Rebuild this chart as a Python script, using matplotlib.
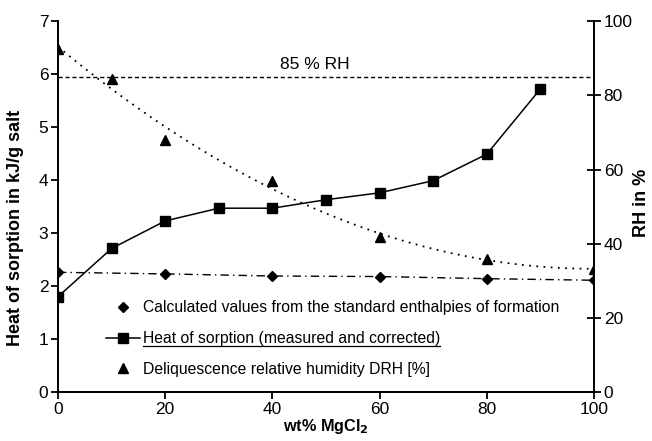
import matplotlib
matplotlib.use('Agg')
import matplotlib.pyplot as plt
import numpy as np
from matplotlib.lines import Line2D

plt.rcParams['font.family'] = ['Liberation Sans', 'DejaVu Sans']

# heat of sorption (measured and corrected), kJ/g salt
x_heat = [0, 10, 20, 30, 40, 50, 60, 70, 80, 90]
heat = [1.80, 2.71, 3.23, 3.47, 3.47, 3.63, 3.76, 3.99, 4.49, 5.72]

# calculated from standard enthalpies of formation, kJ/g salt
x_calc = [0, 20, 40, 60, 80, 100]
calc = [2.26, 2.23, 2.19, 2.18, 2.14, 2.11]

# deliquescence relative humidity, %
x_drh = [0, 10, 20, 40, 60, 80, 100]
drh = [92.6, 84.4, 67.9, 56.9, 41.9, 35.8, 33.2]

rh_line = 85

fig = plt.figure(figsize=(6.52, 4.41), dpi=100)
ax = fig.add_axes([0.089, 0.111, 0.822, 0.841])
ax2 = ax.twinx()

# trend curve for DRH (polynomial fit)
coef = np.polyfit(x_drh, drh, 2)
xf = np.linspace(0, 100, 200)
ax2.plot(xf, np.polyval(coef, xf), color='black', linestyle=(0, (1, 3)), linewidth=1.3)
ax2.axhline(rh_line, color='black', linestyle=(0, (3, 2)), linewidth=1.0)
ax2.plot(x_drh, drh, linestyle='none', marker='^', color='black', markersize=7)
ax2.text(48, 88.4, '85 % RH', ha='center', va='center', fontsize=12.5)

ax.plot(x_calc, calc, color='black', linestyle=(0, (6, 3, 1, 3)), linewidth=1.0)
l_calc, = ax.plot(x_calc, calc, linestyle='none', marker='D', color='black', markersize=5.5)
l_heat, = ax.plot(x_heat, heat, color='black', linewidth=1.1, marker='s', markersize=6.5)
l_drh = Line2D([], [], linestyle='none', marker='^', color='black', markersize=7)

ax.set_xlim(0, 100)
ax.set_ylim(0, 7)
ax2.set_ylim(0, 100)
ax.set_xticks([0, 20, 40, 60, 80, 100])
ax.set_yticks(range(0, 8))
ax2.set_yticks([0, 20, 40, 60, 80, 100])

for a in (ax, ax2):
    a.spines['top'].set_visible(False)
    a.spines['left'].set_linewidth(1.3)
    a.spines['right'].set_linewidth(1.3)
    a.spines['bottom'].set_linewidth(1.3)
ax.tick_params(axis='both', direction='out', length=5, width=1.3, labelsize=12.5, pad=2)
ax2.tick_params(axis='y', direction='inout', length=10, width=1.3, labelsize=12.5, pad=2)

ax.set_xlabel('wt% MgCl$_\\mathbf{2}$', fontsize=11.7, fontweight='bold', labelpad=0)
ax.set_ylabel('Heat of sorption in kJ/g salt', fontsize=13, fontweight='bold')
ax.yaxis.set_label_coords(-0.063, 0.442)
ax2.set_ylabel('RH in %', fontsize=13, fontweight='bold')
ax2.yaxis.set_label_coords(1.072, 0.51)

leg = ax.legend([l_calc, l_heat, l_drh],
                ['Calculated values from the standard enthalpies of formation',
                 'Heat of sorption (measured and corrected)',
                 'Deliquescence relative humidity DRH [%]'],
                loc='lower left', bbox_to_anchor=(0.089, 0.041), frameon=False,
                fontsize=11.3, handlelength=2.17, handletextpad=0.2,
                labelspacing=1.0, borderpad=0, borderaxespad=0)

# underline the measured series label as in the original
fig.canvas.draw()
bb = leg.get_texts()[1].get_window_extent().transformed(fig.transFigure.inverted())
fig.add_artist(Line2D([bb.x0, bb.x1], [bb.y0 + 0.001, bb.y0 + 0.001],
                      transform=fig.transFigure, color='black', linewidth=0.9))

fig.savefig('out.png', dpi=100)
